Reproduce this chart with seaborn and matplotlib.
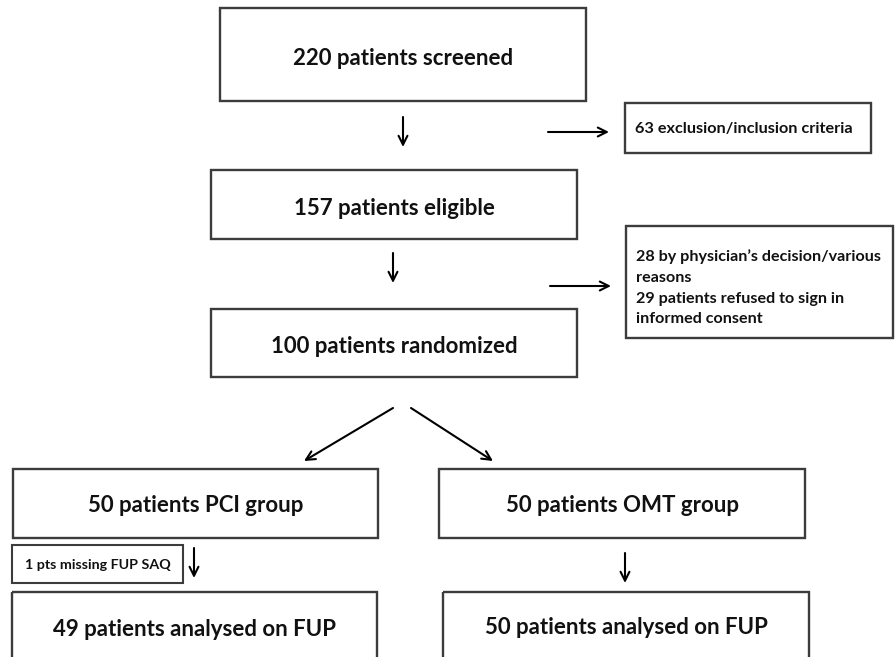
import matplotlib.pyplot as plt
import seaborn as sns
from matplotlib.patches import Rectangle

sns.set_theme(style="white")
plt.rcParams["font.family"] = ["Lato", "DejaVu Sans"]

# flowchart texts
main_labels = ["220 patients screened", "157 patients eligible", "100 patients randomized"]
exclusion_label = "63 exclusion/inclusion criteria"
refusal_lines = ["28 by physician\u2019s decision/various", "reasons",
                 "29 patients refused to sign in", "informed consent"]
group_labels = ["50 patients PCI group", "50 patients OMT group"]
missing_label = "1 pts missing FUP SAQ"
analysed_labels = ["49 patients analysed on FUP", "50 patients analysed on FUP"]

fig = plt.figure(figsize=(8.96, 6.57), dpi=100)
ax = fig.add_axes([0, 0, 1, 1])
ax.set_xlim(0, 896)
ax.set_ylim(657, 0)
ax.axis("off")

edge = "#3c3c3c"
ink = "#111111"


def box(x0, y0, x1, y1, lw=1.7):
    ax.add_patch(Rectangle((x0, y0), x1 - x0, y1 - y0, fill=False,
                           edgecolor=edge, linewidth=lw, clip_on=False))


def arrow(x0, y0, x1, y1):
    ax.annotate("", xy=(x1, y1), xytext=(x0, y0),
                arrowprops=dict(arrowstyle="->", color="black", lw=1.5,
                                mutation_scale=16, shrinkA=0, shrinkB=0))


def label(x, y, s, size, ha="center"):
    ax.text(x, y, s, ha=ha, va="baseline", fontsize=size,
            fontweight="bold", color=ink)


# main column
main_boxes = [(220, 8, 586, 101), (211, 170, 577, 239), (211, 309, 577, 377)]
main_base = [65, 215, 353]
for (x0, y0, x1, y1), lab, b in zip(main_boxes, main_labels, main_base):
    box(x0, y0, x1, y1)
    label((x0 + x1) / 2, b, lab, 16)

arrow(403, 117, 403, 147)
arrow(393, 253, 393, 283)

# side boxes
box(625, 103, 871, 153)
label(635, 133, exclusion_label, 11.7, ha="left")
arrow(548, 132, 609, 132)

box(626, 226, 893, 338)
for line, b in zip(refusal_lines, [261, 282, 303, 323]):
    label(636, b, line, 11.6, ha="left")
arrow(550, 286, 611, 286)

# split into groups
arrow(393, 408, 304, 461)
arrow(411, 408, 493, 461)

group_boxes = [(13, 469, 378, 538), (439, 469, 805, 538)]
for (x0, y0, x1, y1), lab in zip(group_boxes, group_labels):
    box(x0, y0, x1, y1)
    label((x0 + x1) / 2, 512, lab, 16)

# missing follow-up
box(12, 545, 183, 583, lw=1.5)
label(97.5, 569, missing_label, 10.3)
arrow(194, 548, 194, 578)
arrow(625, 553, 625, 583)

analysed_boxes = [(12, 592, 377, 680), (443, 592, 809, 680)]
analysed_base = [636, 634]
for (x0, y0, x1, y1), lab, b in zip(analysed_boxes, analysed_labels, analysed_base):
    box(x0, y0, x1, y1)
    label((x0 + x1) / 2, b, lab, 16)

fig.savefig("out.png", dpi=100, facecolor="white")
